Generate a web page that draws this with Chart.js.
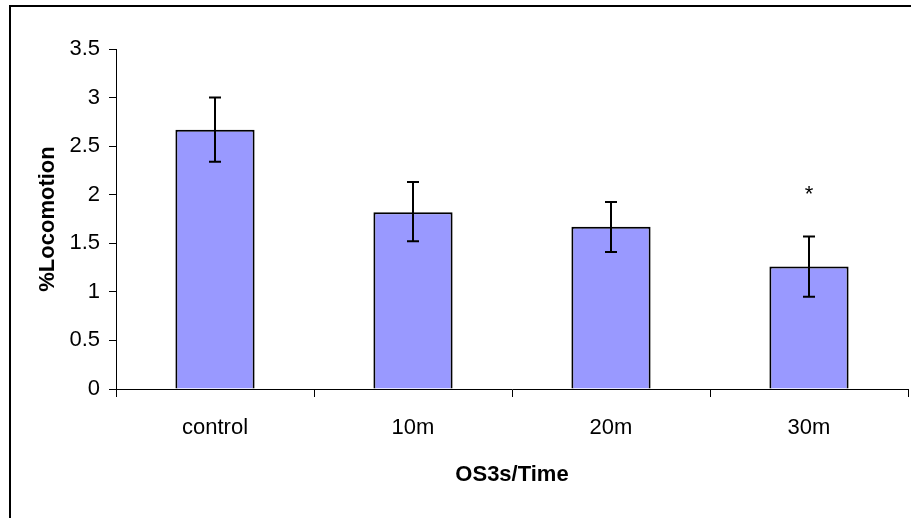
<!DOCTYPE html>
<html>
<head>
<meta charset="utf-8">
<script src="https://cdn.jsdelivr.net/npm/chart.js@4.4.1/dist/chart.umd.min.js"></script>
<style>
  html, body { margin: 0; padding: 0; background: #fff; }
  #wrap { width: 911px; height: 518px; }
</style>
</head>
<body>
<div id="wrap"><canvas id="c"></canvas></div>
<script>
const categories = ['control', '10m', '20m', '30m']
const means = [2.67, 1.82, 1.67, 1.26]
const errLow = [2.34, 1.52, 1.41, 0.95]
const errHigh = [3.0, 2.13, 1.925, 1.57]
const marks = ['', '', '', '*']
const yTicks = [0, 0.5, 1, 1.5, 2, 2.5, 3, 3.5]

const FONT = 'Liberation Sans, Arial, sans-serif'

// error bars + significance marks drawn through the chart's own scales
const errorBarsPlugin = {
  id: 'errorBars',
  afterDatasetsDraw(chart) {
    const { ctx, scales: { x, y } } = chart
    ctx.save()
    ctx.strokeStyle = '#000'
    ctx.lineWidth = 2
    categories.forEach((c, i) => {
      const px = x.getPixelForValue(i)
      const top = y.getPixelForValue(errHigh[i])
      const bot = y.getPixelForValue(errLow[i])
      ctx.beginPath()
      ctx.moveTo(px, top)
      ctx.lineTo(px, bot)
      ctx.moveTo(px - 6, top)
      ctx.lineTo(px + 6, top)
      ctx.moveTo(px - 6, bot)
      ctx.lineTo(px + 6, bot)
      ctx.stroke()
      if (marks[i]) {
        ctx.fillStyle = '#000'
        ctx.font = '22px ' + FONT
        ctx.textAlign = 'center'
        ctx.textBaseline = 'alphabetic'
        ctx.fillText(marks[i], px, top - 35)
      }
    })
    ctx.restore()
  },
}

// outer frame of the chart (only left/top edges fall inside the picture)
const framePlugin = {
  id: 'frame',
  afterDraw(chart) {
    const { ctx } = chart
    ctx.save()
    ctx.strokeStyle = '#000'
    ctx.lineWidth = 2
    ctx.strokeRect(10, 6, 1000, 1000)
    ctx.restore()
  },
}

new Chart(document.getElementById('c'), {
  type: 'bar',
  data: {
    labels: categories,
    datasets: [{
      data: means,
      backgroundColor: '#9999ff',
      borderColor: '#000',
      borderWidth: 2,
      categoryPercentage: 1,
      barPercentage: 0.4,
    }],
  },
  options: {
    responsive: true,
    maintainAspectRatio: false,
    animation: false,
    layout: { padding: { top: 49, right: 3, left: 0, bottom: 0 } },
    plugins: {
      legend: { display: false },
      tooltip: { enabled: false },
    },
    scales: {
      x: {
        afterFit: s => { s.height = 129 },
        grid: {
          offset: true,
          drawOnChartArea: false,
          drawTicks: true,
          tickLength: 8,
          color: '#000',
        },
        border: { display: true, color: '#000', width: 1 },
        ticks: {
          color: '#000',
          font: { family: FONT, size: 22 },
          padding: 18,
        },
        title: {
          display: true,
          text: 'OS3s/Time',
          color: '#000',
          font: { family: FONT, size: 22, weight: 'bold' },
          padding: { top: 0, bottom: 30 },
        },
      },
      y: {
        min: 0,
        max: 3.5,
        afterFit: s => { s.width = 116 },
        afterBuildTicks: s => { s.ticks = yTicks.map(v => ({ value: v })) },
        grid: {
          drawOnChartArea: false,
          drawTicks: true,
          tickLength: 7,
          color: '#000',
        },
        border: { display: true, color: '#000', width: 1 },
        ticks: {
          color: '#000',
          font: { family: FONT, size: 22 },
          padding: 9,
          callback: v => String(v),
        },
        title: {
          display: true,
          text: '%Locomotion',
          color: '#000',
          font: { family: FONT, size: 22, weight: 'bold' },
          padding: { top: 35, bottom: 0 },
        },
      },
    },
  },
  plugins: [errorBarsPlugin, framePlugin],
})
</script>
</body>
</html>
